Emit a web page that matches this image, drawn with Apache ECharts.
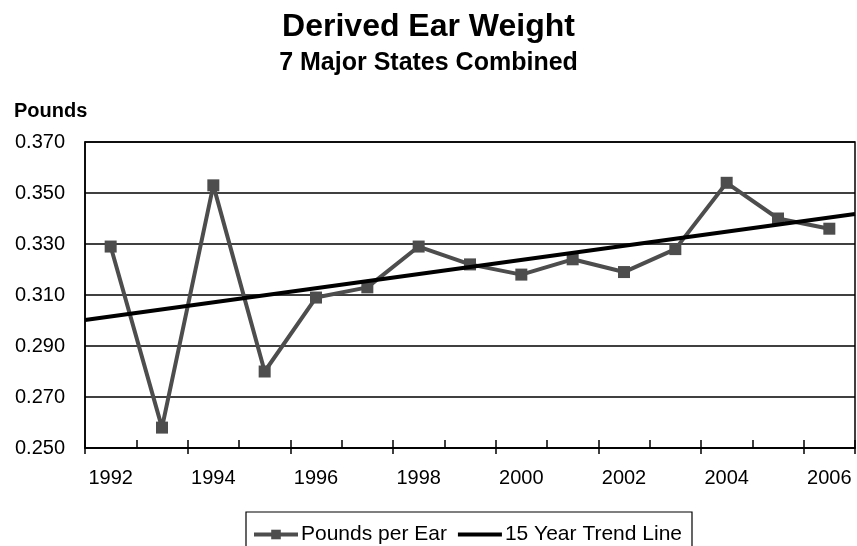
<!DOCTYPE html>
<html>
<head>
<meta charset="utf-8">
<script src="https://cdn.jsdelivr.net/npm/echarts@6/dist/echarts.min.js"></script>
<style>
  html, body { margin: 0; padding: 0; background: #fff; }
  #chart { width: 857px; height: 546px; }
</style>
</head>
<body>
<div id="chart"></div>
<script>
// --- Data ---
const years = ['1992', '1993', '1994', '1995', '1996', '1997', '1998', '1999',
               '2000', '2001', '2002', '2003', '2004', '2005', '2006']
const poundsPerEar = [0.329, 0.258, 0.353, 0.280, 0.309, 0.313, 0.329, 0.322,
                      0.318, 0.324, 0.319, 0.328, 0.354, 0.340, 0.336]
// trend line end points (category index, value), runs edge to edge of the plot
const trendX = [-0.5, 14.5]
const trendY = [0.3002, 0.3418]
const yTicks = [0.250, 0.270, 0.290, 0.310, 0.330, 0.350, 0.370]

const font = 'Liberation Sans, Arial, sans-serif'
const chart = echarts.init(document.getElementById('chart'))

const option = {
  backgroundColor: '#fff',
  animation: false,
  title: [
    { text: 'Derived Ear Weight', left: 'center', top: 6,
      textStyle: { fontFamily: font, fontSize: 32, fontWeight: 'bold', color: '#000' } },
    { text: '7 Major States Combined', left: 'center', top: 46,
      textStyle: { fontFamily: font, fontSize: 25, fontWeight: 'bold', color: '#000' } },
    { text: 'Pounds', left: 9, top: 96,
      textStyle: { fontFamily: font, fontSize: 20, fontWeight: 'bold', color: '#000' } }
  ],
  grid: {
    left: 85, right: 2, top: 142, bottom: 98,
    show: true, borderColor: '#000', borderWidth: 1.5, backgroundColor: 'transparent'
  },
  legend: {
    left: 246, top: 512,
    padding: [12, 10, 12, 6],
    itemGap: 11,
    itemWidth: 44, itemHeight: 12,
    borderColor: '#000', borderWidth: 1.2,
    lineStyle: { width: 4 },
    textStyle: { fontFamily: font, fontSize: 21, color: '#000', padding: [0, 0, 0, -2] },
    data: [
      { name: 'Pounds per Ear' },
      { name: '15 Year Trend Line', icon: 'path://M0,0 H44 V4 H0 Z' }
    ]
  },
  xAxis: [
    {
      type: 'category',
      data: years,
      boundaryGap: true,
      axisLine: { lineStyle: { color: '#000', width: 1.5 } },
      axisTick: { show: true, length: 6, lineStyle: { color: '#000', width: 1.5 } },
      axisLabel: { interval: 1, color: '#000', fontFamily: font, fontSize: 20, margin: 20 },
      splitLine: { show: false }
    },
    {
      type: 'value',
      min: -0.5, max: 14.5,
      show: false
    },
    {
      // inner half of the crossing tick marks
      type: 'category',
      data: years,
      position: 'bottom',
      boundaryGap: true,
      axisLine: { show: false },
      axisTick: { show: true, inside: true, length: 8, lineStyle: { color: '#000', width: 1.5 } },
      axisLabel: { show: false },
      splitLine: { show: false }
    }
  ],
  yAxis: {
    type: 'value',
    min: yTicks[0], max: yTicks[yTicks.length - 1], interval: 0.02,
    axisLine: { show: true, onZero: false, lineStyle: { color: '#000', width: 1.5 } },
    axisTick: { show: false },
    axisLabel: {
      color: '#000', fontFamily: font, fontSize: 20, margin: 20,
      formatter: v => v.toFixed(3)
    },
    splitLine: { show: true, lineStyle: { color: '#000', width: 1.5 } }
  },
  series: [
    {
      name: 'Pounds per Ear',
      type: 'line',
      data: poundsPerEar,
      symbol: 'rect',
      symbolSize: 12,
      lineStyle: { color: '#4d4d4d', width: 4 },
      itemStyle: { color: '#4d4d4d' },
      z: 3
    },
    {
      name: '15 Year Trend Line',
      type: 'line',
      xAxisIndex: 1,
      data: trendX.map((x, i) => [x, trendY[i]]),
      showSymbol: false,
      symbol: 'none',
      lineStyle: { color: '#000', width: 4 },
      itemStyle: { color: '#000' },
      z: 4
    }
  ]
}
chart.setOption(option)
</script>
</body>
</html>
